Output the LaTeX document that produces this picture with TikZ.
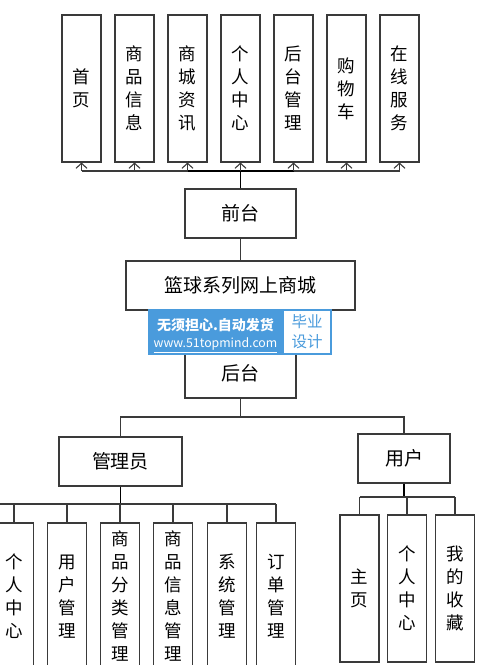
\documentclass[tikz,border=0pt]{standalone}
\usepackage{fontspec}
\newfontfamily\cjk{Noto Sans CJK SC}
\definecolor{boxline}{HTML}{3A3A3A}
\definecolor{markblue}{HTML}{4A9BDC}
\usetikzlibrary{arrows.meta,positioning}

\begin{document}
\begin{tikzpicture}[x=1pt, y=-1pt,
  box/.style={rectangle, draw=boxline, line width=1.1pt, inner sep=0pt, align=center, font=\cjk\fontsize{19}{22}\selectfont, minimum height=49pt},
  vbox/.style={rectangle, draw=boxline, line width=1.1pt, inner sep=0pt, align=center, font=\cjk\fontsize{17.5}{23}\selectfont, minimum width=39pt, minimum height=147pt},
  link/.style={draw=boxline, line width=1.1pt},
  trunk/.style={draw=black, line width=1.7pt},
  up/.style={-{Straight Barb[length=5pt,width=11pt]}}]
\useasboundingbox (0,0) rectangle (481,665);
\clip (0,0) rectangle (481,665);

% front end
\node[vbox] (f1) at (81.5,88.5) {首\\页};
\node[vbox] (f2) at (134.5,88.5) {商\\品\\信\\息};
\node[vbox] (f3) at (187.5,88.5) {商\\城\\资\\讯};
\node[vbox] (f4) at (240.5,88.5) {个\\人\\中\\心};
\node[vbox] (f5) at (293.5,88.5) {后\\台\\管\\理};
\node[vbox] (f6) at (346.5,88.5) {购\\物\\车};
\node[vbox] (f7) at (399.5,88.5) {在\\线\\服\\务};
\node[box, minimum width=111pt] (qiantai) at (240.5,213.5) {前台};
\node[box, minimum width=229pt] (mall) at (240.5,285.5) {篮球系列网上商城};
\node[box, minimum width=111pt] (houtai) at (240.5,373.5) {后台};

% back end
\node[box, minimum width=123pt] (admin) at (120.5,461.5) {管理员};
\node[box, minimum width=92pt] (user) at (404,458.5) {用户};
\node[vbox] (a1) at (14,596.5) {个\\人\\中\\心};
\node[vbox] (a2) at (67,596.5) {用\\户\\管\\理};
\node[vbox] (a3) at (120,596.5) {商\\品\\分\\类\\管\\理};
\node[vbox] (a4) at (173,596.5) {商\\品\\信\\息\\管\\理};
\node[vbox] (a5) at (227,596.5) {系\\统\\管\\理};
\node[vbox] (a6) at (276,596.5) {订\\单\\管\\理};
\node[vbox] (u1) at (359.5,588.5) {主\\页};
\node[vbox] (u2) at (407,588.5) {个\\人\\中\\心};
\node[vbox] (u3) at (455,588.5) {我\\的\\收\\藏};

\coordinate (fbus) at (240.5,171);
\coordinate (bbus) at (240.5,417);
\coordinate (abus) at (120.5,504);
\coordinate (aend) at (-20,504);
\coordinate (ubus) at (404,497);

\draw[trunk] (qiantai.north) -- (fbus);
\draw[link] (f1.south |- fbus) -- (f7.south |- fbus);
\draw[trunk] (f3.south |- fbus) -- (f5.south |- fbus);
\foreach \i in {1,...,7}
  \draw[link, up] (f\i.south |- fbus) -- (f\i.south);
\draw[link] (qiantai) -- (mall);
\draw[link] (mall) -- (houtai);

\draw[link] (houtai) -- (bbus);
\draw[link] (admin.north) |- (bbus) -| (user.north);
\draw[trunk] (admin) -- (abus);
\draw[link] (aend) -- (a6.north |- abus);
\foreach \i in {1,...,6}
  \draw[link] (a\i.north |- abus) -- (a\i.north);
\draw[trunk] (user) -- (ubus);
\draw[link] (u1.north |- ubus) -- (u3.north |- ubus);
\foreach \i in {1,2,3}
  \draw[link] (u\i.north |- ubus) -- (u\i.north);

% watermark
\fill[markblue] (148,309) rectangle (332,355);
\node[fill=white, minimum width=46pt, minimum height=42pt, inner sep=0pt, align=center,
  text=markblue, font=\cjk\fontsize{15.5}{20}\selectfont] (tag) at (307,332) {毕业\\设计};
\node[text=white, font=\cjk\bfseries\fontsize{14}{16}\selectfont, inner sep=0pt] (slogan) at (215.5,325) {无须担心.自动发货};
\node[text=white, font=\cjk\fontsize{12.3}{14}\selectfont, inner sep=0pt] (site) at (215.5,345) {\underline{www.51topmind.com}};
\end{tikzpicture}
\end{document}
